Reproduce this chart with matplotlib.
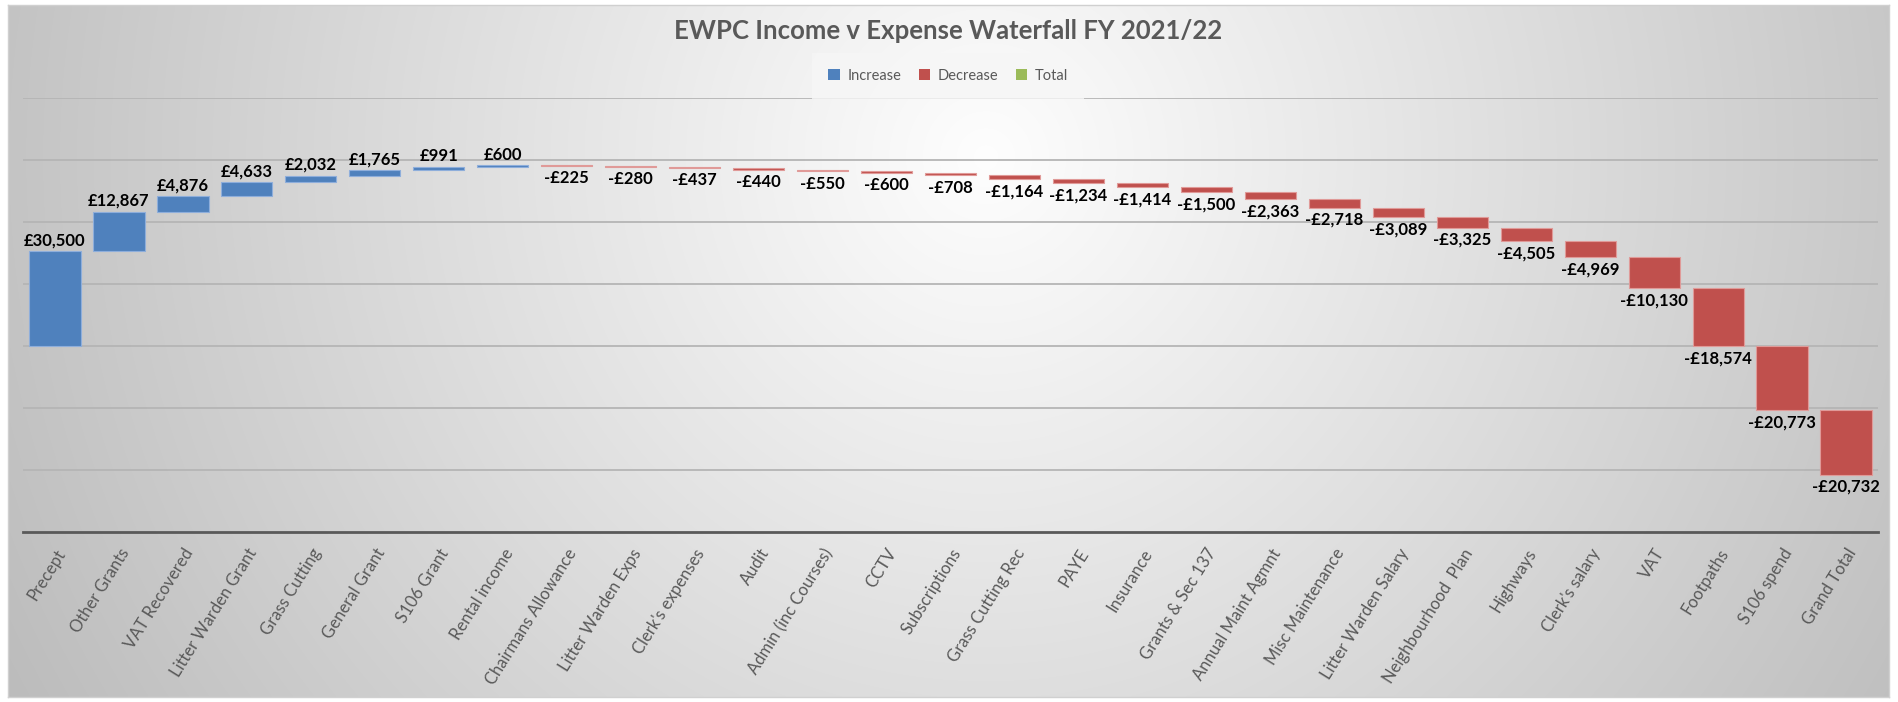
import matplotlib
matplotlib.use('Agg')
import matplotlib.pyplot as plt
import numpy as np
from matplotlib.patches import Patch

categories = ["Precept", "Other Grants", "VAT Recovered", "Litter Warden Grant", "Grass Cutting",
              "General Grant", "S106 Grant", "Rental income", "Chairmans Allowance", "Litter Warden Exps",
              "Clerk's expenses", "Audit", "Admin (inc Courses)", "CCTV", "Subscriptions",
              "Grass Cutting Rec", "PAYE", "Insurance", "Grants & Sec 137", "Annual Maint Agmnt",
              "Misc Maintenance", "Litter Warden Salary", "Neighbourhood  Plan", "Highways", "Clerk's salary",
              "VAT", "Footpaths", "S106 spend", "Grand Total"]
values = [30500, 12867, 4876, 4633, 2032, 1765, 991, 600,
          -225, -280, -437, -440, -550, -600, -708, -1164, -1234, -1414, -1500,
          -2363, -2718, -3089, -3325, -4505, -4969, -10130, -18574, -20773, -20732]
legend_labels = ["Increase", "Decrease", "Total"]
title = "EWPC Income v Expense Waterfall FY 2021/22"

W, H = 1898, 702
fig = plt.figure(figsize=(W / 100, H / 100), dpi=100)
fig.patch.set_facecolor('white')

# chart-area background with soft radial gradient
cx0, cy0, cx1, cy1 = 8, 5, 1889, 697
bg = fig.add_axes([cx0 / W, (H - cy1) / H, (cx1 - cx0) / W, (cy1 - cy0) / H])
gx, gy = np.meshgrid(np.linspace(0, 1, 900), np.linspace(0, 1, 350))
d = np.sqrt(((gx - 0.52) / 0.62) ** 2 + ((gy - 0.22) / 1.7) ** 2)
val = np.clip(0.995 - 0.27 * d, 0, 1)
bg.imshow(np.dstack([val, val, val]), aspect='auto', extent=[0, 1, 1, 0], interpolation='bilinear')
bg.set_xlim(0, 1); bg.set_ylim(1, 0)
bg.set_xticks([]); bg.set_yticks([])
for s in bg.spines.values():
    s.set_color('#d0d0d0'); s.set_linewidth(1)
bg.set_zorder(0)

ax = fig.add_axes([23 / W, (H - 532) / H, (1878 - 23) / W, (532 - 98) / H])
ax.set_zorder(1)
ax.patch.set_alpha(0)

inc_c, dec_c, tot_c = '#4F81BD', '#C0504D', '#9BBB59'
inc_e, dec_e = '#8eaedb', '#e09a98'
x = np.arange(len(values))
starts = np.concatenate([[0], np.cumsum(values)[:-1]])
colors = [inc_c if v > 0 else dec_c for v in values]
edges = [inc_e if v > 0 else dec_e for v in values]
ax.bar(x, values, bottom=starts, width=0.8, color=colors, edgecolor=edges, linewidth=0.8, zorder=3)

for i, (s, v) in enumerate(zip(starts, values)):
    if v > 0:
        ax.annotate(f"£{v:,}", (i, s + v), xytext=(0, 2), textcoords='offset points',
                    ha='center', va='bottom', fontsize=12, fontweight='bold', family='Lato', color='black')
    else:
        ax.annotate(f"-£{-v:,}", (i, s + v), xytext=(0, -3), textcoords='offset points',
                    ha='center', va='top', fontsize=12, fontweight='bold', family='Lato', color='black')

ax.set_xlim(-0.5, len(values) - 0.5)
ax.set_ylim(-60000, 80000)
ax.set_yticks(np.arange(-40000, 80001, 20000))
ax.yaxis.grid(True, color='#b5b5b5', linewidth=1.3)
ax.set_axisbelow(True)
ax.tick_params(axis='y', length=0, labelleft=False)
ax.set_xticks(x)
ax.set_xticklabels(categories, rotation=58, ha='right', rotation_mode='anchor',
                   fontsize=12, family='Lato', color='#595959')
ax.tick_params(axis='x', length=0, pad=10)
for k in ['top', 'left', 'right']:
    ax.spines[k].set_visible(False)
ax.spines['bottom'].set_color('#595959')
ax.spines['bottom'].set_linewidth(2)

handles = [Patch(facecolor=inc_c), Patch(facecolor=dec_c), Patch(facecolor=tot_c)]
leg = fig.legend(handles, legend_labels, loc='upper center', bbox_to_anchor=(948 / W, 1 - 50 / H),
                 ncol=3, frameon=True, handlelength=0.8, handleheight=0.8,
                 handletextpad=0.5, columnspacing=1.2, borderpad=0.8,
                 prop={'family': 'Lato', 'size': 10.5})
leg.get_frame().set_facecolor('#f6f6f6')
leg.get_frame().set_edgecolor('none')
leg.get_frame().set_boxstyle('square')
for t in leg.get_texts():
    t.set_color('#595959')

fig.text(948 / W, 1 - 31 / H, title, ha='center', va='center', fontsize=18.5,
         fontweight='bold', family='Lato', color='#595959')

fig.savefig('out.png', dpi=100, facecolor=fig.get_facecolor())
